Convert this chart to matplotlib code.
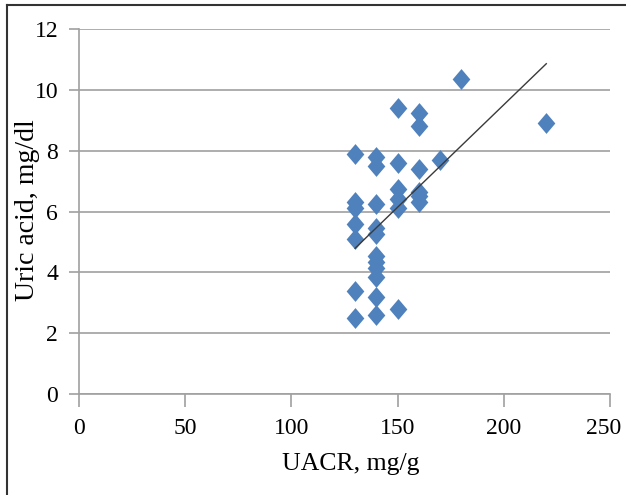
import numpy as np
import matplotlib
matplotlib.use('Agg')
import matplotlib.pyplot as plt
import matplotlib.transforms as mtransforms
from matplotlib.path import Path
from matplotlib.lines import Line2D

# UACR (mg/g) against uric acid (mg/dl)
uacr = [130, 130, 130, 130, 130, 130, 130,
        140, 140, 140, 140, 140, 140, 140, 140, 140, 140, 140,
        150, 150, 150, 150, 150, 150,
        160, 160, 160, 160, 160, 160,
        170, 180, 220]
uric_acid = [7.9, 6.3, 6.1, 5.6, 5.1, 3.4, 2.5,
             7.8, 7.5, 6.25, 5.45, 5.25, 4.55, 4.35, 4.15, 3.85, 3.2, 2.6,
             9.4, 7.6, 6.75, 6.4, 6.1, 2.8,
             9.25, 8.8, 7.4, 6.65, 6.5, 6.3,
             7.7, 10.35, 8.9]

# linear trend line as drawn in the picture
trend_slope = 0.0674
trend_intercept = -3.97

x_ticks = [0, 50, 100, 150, 200, 250]
y_ticks = [0, 2, 4, 6, 8, 10, 12]

plt.rcParams['font.family'] = ['Liberation Serif', 'DejaVu Serif']

fig = plt.figure(figsize=(6.26, 4.95), dpi=100)
ax = fig.add_axes([79 / 626, 1 - 394 / 495, 531 / 626, 365 / 495])

# diamond marker a bit taller than wide
diamond = Path([(0, 1), (0.85, 0), (0, -1), (-0.85, 0), (0, 1)],
               [Path.MOVETO, Path.LINETO, Path.LINETO, Path.LINETO, Path.CLOSEPOLY])

ax.plot(uacr, uric_acid, linestyle='none', marker=diamond, markersize=15,
        color='#4F81BD', markeredgewidth=0, zorder=3)

tx = np.array([min(uacr), max(uacr)])
ax.plot(tx, trend_slope * tx + trend_intercept, color='#3a3a3a', linewidth=1.0, zorder=4)

ax.set_xlim(0, 250)
ax.set_ylim(0, 12)
ax.set_xticks(x_ticks)
ax.set_yticks(y_ticks)
ax.yaxis.grid(True, color='#a0a0a0', linewidth=1.2)
ax.set_axisbelow(True)

for side in ['top', 'right']:
    ax.spines[side].set_visible(False)
for side in ['left', 'bottom']:
    ax.spines[side].set_color('#a0a0a0')
    ax.spines[side].set_linewidth(1.2)

ax.tick_params(axis='x', direction='out', length=9, width=1.2, color='#a0a0a0',
               labelsize=17, pad=8)
ax.tick_params(axis='y', direction='out', length=7, width=1.2, color='#a0a0a0',
               labelsize=17, pad=8)

# last x label sits a little left so it stays inside the frame
last = ax.get_xticklabels()[-1]
last.set_transform(last.get_transform() +
                   mtransforms.ScaledTranslation(-6 / 100, 0, fig.dpi_scale_trans))

ax.set_xlabel('UACR, mg/g', fontsize=18.5)
ax.set_ylabel('Uric acid, mg/dl', fontsize=20)
ax.xaxis.set_label_coords(0.512, -0.163)
ax.yaxis.set_label_coords(-0.073, 0.504)

# frame lines on the left and top of the figure
fig.add_artist(Line2D([7 / 626, 7 / 626], [0, 1 - 5 / 495], transform=fig.transFigure,
                      color='#333333', linewidth=1.5))
fig.add_artist(Line2D([7 / 626, 1], [1 - 5 / 495, 1 - 5 / 495], transform=fig.transFigure,
                      color='#333333', linewidth=1.5))

fig.savefig('out.png', dpi=100)
